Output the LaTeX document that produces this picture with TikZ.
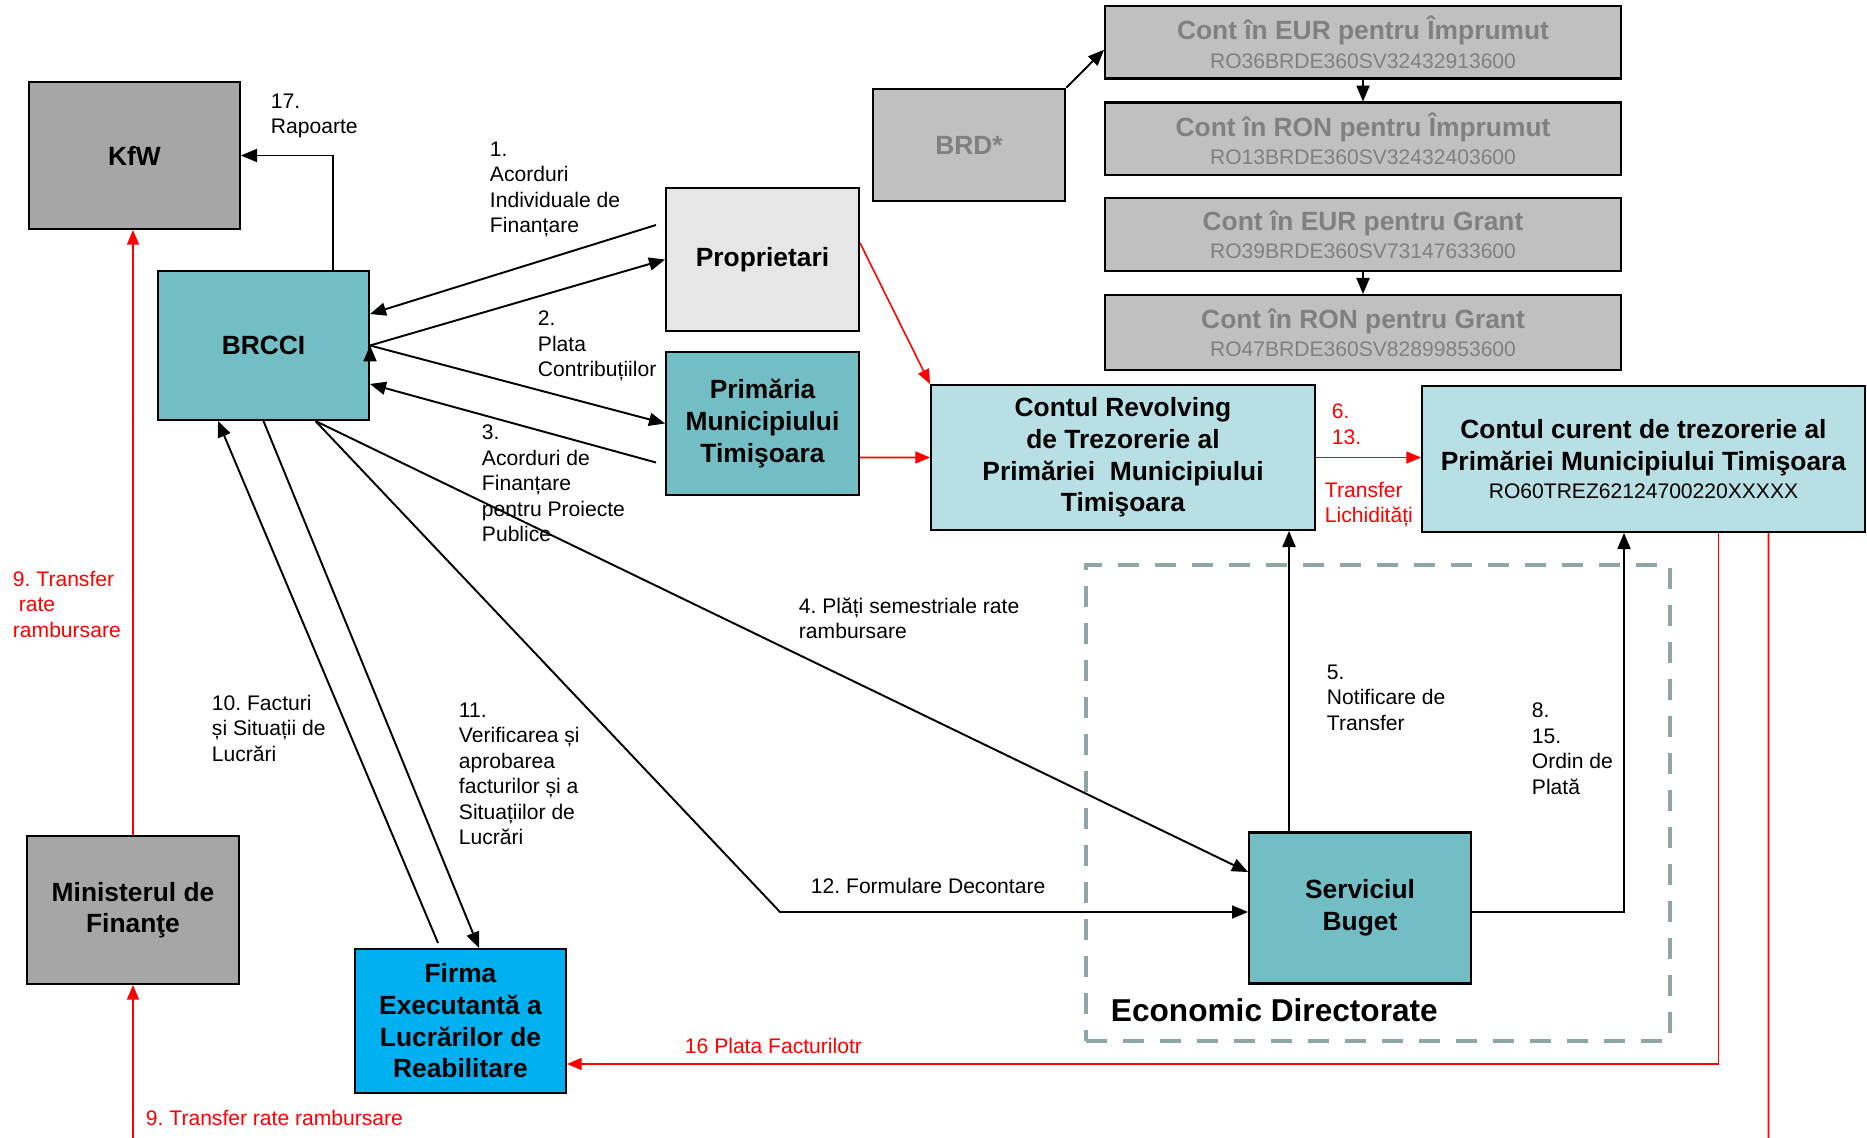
\documentclass[tikz,border=0pt]{standalone}
\usepackage{fontspec}
\setmainfont{Liberation Sans}
\usepackage{tikz}
\usetikzlibrary{arrows}

\definecolor{kfwgrey}{RGB}{166,166,166}
\definecolor{accgrey}{RGB}{192,192,192}
\definecolor{accfont}{RGB}{128,128,128}
\definecolor{propgrey}{RGB}{230,230,230}
\definecolor{tealdark}{RGB}{114,190,196}
\definecolor{teallight}{RGB}{184,223,227}
\definecolor{firmblue}{RGB}{0,176,240}
\definecolor{dirgrey}{RGB}{143,166,166}

\newcommand{\ibanfont}{\mdseries\fontsize{12}{14.5}\selectfont}
\AtBeginDocument{\frenchspacing}

\begin{document}
\begin{tikzpicture}[->,
					>=triangle 45,
					x=0.02cm, y=-0.02cm,
					line width=1.1pt,
					box/.style={draw, line width=1.2pt, inner sep=0pt, align=center,
						font=\bfseries\fontsize{15}{18}\selectfont},
					acc/.style={box, fill=accgrey, text=accfont, minimum width=10.32cm,
						font=\bfseries\fontsize{15}{16}\selectfont},
					lbl/.style={anchor=north west, inner sep=0pt, align=left,
						font=\fontsize{12}{14.5}\selectfont},
					redlbl/.style={lbl, text=red}]

	\useasboundingbox (0,0) rectangle (1867,1138);

	\node[draw=dirgrey, line width=2.3pt, dash pattern=on 0.42cm off 0.32cm,
		minimum width=11.68cm, minimum height=9.52cm] (dir) at (1378,803) {};

	\node[box, fill=kfwgrey, minimum width=4.22cm, minimum height=2.94cm] (kfw) at (134.5,155.5) {KfW};
	\node[box, fill=tealdark, minimum width=4.22cm, minimum height=2.98cm] (brcci) at (263.5,345.5) {BRCCI};
	\node[box, fill=propgrey, minimum width=3.86cm, minimum height=2.86cm] (prop) at (762.5,259.5) {Proprietari};
	\node[box, fill=tealdark, minimum width=3.86cm, minimum height=2.86cm] (prim) at (762.5,423.5) {Primăria\\Municipiului\\Timişoara};
	\node[box, fill=accgrey, text=accfont, minimum width=3.85cm, minimum height=2.25cm] (brd) at (969,145) {BRD*};
	\node[acc, minimum height=1.45cm] (eurimp) at (1363,42.3) {Cont în EUR pentru Împrumut\\{\ibanfont RO36BRDE360SV32432913600}};
	\node[acc, minimum height=1.45cm] (ronimp) at (1363,138.8) {Cont în RON pentru Împrumut\\{\ibanfont RO13BRDE360SV32432403600}};
	\node[acc, minimum height=1.46cm] (eurgr) at (1363,234.5) {Cont în EUR pentru Grant\\{\ibanfont RO39BRDE360SV73147633600}};
	\node[acc, minimum height=1.5cm] (rongr) at (1363,332.5) {Cont în RON pentru Grant\\{\ibanfont RO47BRDE360SV82899853600}};
	\node[box, fill=teallight, minimum width=7.68cm, minimum height=2.9cm] (rev) at (1123,457.5) {Contul Revolving\\de Trezorerie al\\Primăriei\ \ Municipiului\\Timişoara};
	\node[box, fill=teallight, minimum width=8.86cm, minimum height=2.92cm] (cur) at (1643.5,459) {Contul curent de trezorerie al\\Primăriei Municipiului Timişoara\\[-2pt]{\ibanfont RO60TREZ62124700220XXXXX}};
	\node[box, fill=tealdark, minimum width=4.44cm, minimum height=3.02cm] (serv) at (1360,908) {Serviciul\\Buget};
	\node[box, fill=kfwgrey, minimum width=4.24cm, minimum height=2.96cm] (min) at (133,910) {Ministerul de\\Finanţe};
	\node[box, fill=firmblue, minimum width=4.22cm, minimum height=2.88cm] (firma) at (460.5,1021) {Firma\\Executantă a\\Lucrărilor de\\Reabilitare};
	\node[anchor=west, inner sep=0pt, font=\bfseries\fontsize{18}{21}\selectfont] (eco) at (1110,1010) {Economic Directorate};

	\node[lbl] (t17) at (270,93) {17.\\Rapoarte};
	\node[lbl] (t1) at (489,141) {1.\\Acorduri\\Individuale de\\Finanțare};
	\node[lbl] (t2) at (537,310) {2.\\Plata\\Contribuțiilor};
	\node[lbl] (t3) at (481,424) {3.\\Acorduri de\\Finanțare\\pentru Proiecte\\Publice};
	\node[lbl] (t4) at (798,597) {4. Plăți semestriale rate\\rambursare};
	\node[lbl] (t5) at (1326,664) {5.\\Notificare de\\Transfer};
	\node[lbl] (t8) at (1531,702) {8.\\15.\\Ordin de\\Plată};
	\node[lbl] (t10) at (211,694) {10. Facturi\\și Situații de\\Lucrări};
	\node[lbl] (t11) at (458,702) {11.\\Verificarea și\\aprobarea\\facturilor și a\\Situațiilor de\\Lucrări};
	\node[lbl] (t12) at (810,877) {12. Formulare Decontare};
	\node[redlbl] (t6) at (1331,403) {6.\\13.};
	\node[redlbl] (tliq) at (1324,481) {Transfer\\Lichidități};
	\node[redlbl] (t9a) at (12,570) {9. Transfer\\\hspace*{3.3pt}rate\\rambursare};
	\node[redlbl] (t9b) at (145,1109) {9. Transfer rate rambursare};
	\node[redlbl] (t16) at (684,1037) {16 Plata Facturilotr};

	\coordinate (dec) at (780,912);
	\coordinate (mfin) at (133,1138);
	\coordinate (exit) at (1768.5,1138);

	\draw ([xshift=1.39cm]brcci.north) |- (kfw.east);
	\draw ([xshift=-0.18cm,yshift=0.69cm]prop.west) -- ([yshift=0.63cm]brcci.east);
	\draw (brcci.east) edge (prop.west)
		  (brcci.east) edge (prim.west);
	\draw ([xshift=-0.18cm,yshift=-0.78cm]prim.west) -- ([yshift=-0.77cm]brcci.east);
	\draw ([xshift=1.04cm]brcci.south) -- ([yshift=0.72cm]serv.west);
	\draw ([xshift=1.04cm]brcci.south) -- (dec) -- (dec -| serv.west);
	\draw ([xshift=-0.45cm,yshift=0.1cm]firma.north) -- ([xshift=-0.91cm]brcci.south);
	\draw (brcci.south) -- ([xshift=0.37cm]firma.north);
	\draw ([xshift=-1.42cm]serv.north) -- ([xshift=-1.42cm]serv.north |- rev.south);
	\draw ([yshift=-0.08cm]serv.east) -| ([xshift=-0.39cm]cur.south);
	\draw (brd.north east) -- ([yshift=-0.15cm]eurimp.west);
	\draw (eurimp) edge (ronimp)
		  (eurgr) edge (rongr);

	\draw[red, line width=0.9pt] ([yshift=0.33cm]prop.east) -- (rev.north west);
	\draw[red, line width=0.9pt] ([yshift=-0.68cm]prim.east) -- (rev.west);
	\draw[red, line width=0.9pt] (rev.east) -- (rev.east -| cur.west);
	\draw[red, line width=0.9pt] ([xshift=1.5cm]cur.south) |- ([yshift=-0.86cm]firma.east);
	\draw[-, red, line width=0.9pt] ([xshift=2.5cm]cur.south) -- (exit);
	\draw[red, line width=0.9pt] (min.north) -- (min.north |- kfw.south);
	\draw[red, line width=0.9pt] (mfin) -- (min.south);
\end{tikzpicture}
\end{document}
